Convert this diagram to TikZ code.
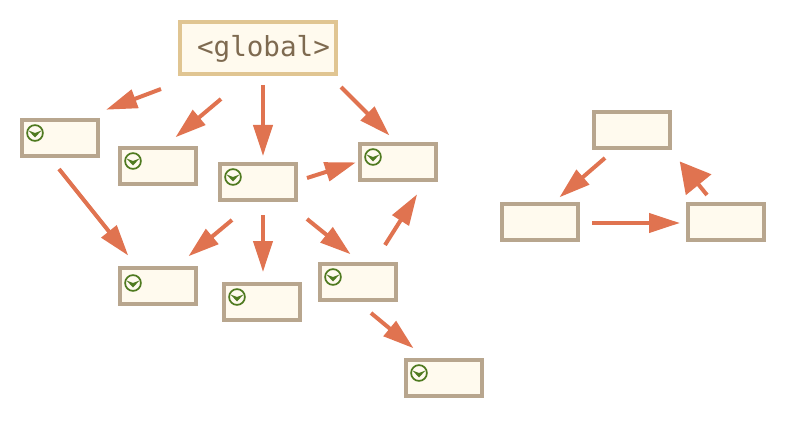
\documentclass[tikz,border=0pt]{standalone}
\usepackage{fontspec}
\setmonofont{DejaVu Sans Mono}
\usetikzlibrary{arrows.meta}
\definecolor{boxfill}{HTML}{FFFAEE}
\definecolor{boxline}{HTML}{B8A68E}
\definecolor{globalline}{HTML}{E0C592}
\definecolor{globaltext}{HTML}{7E6A50}
\definecolor{linkcolor}{HTML}{E07350}
\definecolor{iconcolor}{HTML}{4F7A20}
\tikzset{
  objbox/.style={draw=boxline,fill=boxfill,line width=4pt,minimum width=76pt,minimum height=36pt,inner sep=0pt},
  globalbox/.style={draw=globalline,fill=boxfill,line width=4pt,minimum width=156pt,minimum height=52pt,inner sep=0pt,text=globaltext,font=\ttfamily\fontsize{27.6pt}{30pt}\selectfont},
  link/.style={draw=linkcolor,line width=4pt,shorten >=-2pt,-{Triangle[length=31pt,width=19pt]}},
  widelink/.style={draw=linkcolor,line width=4pt,shorten >=-2pt,-{Triangle[length=30pt,width=32pt]}},
  pics/openicon/.style={code={
    \draw[iconcolor,line width=1.7pt] (0,0) circle (7.9pt);
    \fill[iconcolor] (-6.5,-2.5) -- (0,0) -- (6.5,-2.5) -- (0,4.5) -- cycle;
  }}
}
\begin{document}
\begin{tikzpicture}[x=1pt,y=-1pt]
\useasboundingbox (0,0) rectangle (788,436);
% Reachable objects
\node[globalbox] (global) at (258,48) {\hspace{11pt}\raisebox{-8.7pt}[0pt][0pt]{<global>}};
\node[objbox] (objA) at (60,138) {};
\node[objbox] (objB) at (158,166) {};
\node[objbox] (objC) at (258,182) {};
\node[objbox] (objD) at (398,162) {};
\node[objbox] (objE) at (158,286) {};
\node[objbox] (objF) at (262,302) {};
\node[objbox] (objG) at (358,282) {};
\node[objbox] (objH) at (444,378) {};
% Unreachable island
\node[objbox] (islandTop) at (632,130) {};
\node[objbox] (islandLeft) at (540,222) {};
\node[objbox] (islandRight) at (726,222) {};
% Icons on the reachable objects
\foreach \obj in {objA,objB,objC,objD,objF,objG,objH}
  \pic at ([shift={(-25,-5)}]\obj.center) {openicon};
\pic at ([shift={(-25,-3)}]objE.center) {openicon};
% Links out of global
\draw[link] ([shift={(-97,41)}]global.center) -- ([shift={(48,-29)}]objA.center);
\draw[link] ([shift={(-37,51)}]global.center) -- ([shift={(19,-30)}]objB.center);
\draw[link] ([shift={(5,37)}]global.center) -- ([shift={(5,-28)}]objC.center);
\draw[link] ([shift={(83,39)}]global.center) -- ([shift={(-10,-28)}]objD.center);
% Links between reachable objects
\draw[link] ([shift={(49,-4)}]objC.center) -- ([shift={(-44,1)}]objD.center);
\draw[link] ([shift={(-1,31)}]objA.center) -- ([shift={(-31,-32)}]objE.center);
\draw[link] ([shift={(-26,38)}]objC.center) -- ([shift={(32,-31)}]objE.center);
\draw[link] ([shift={(5,33)}]objC.center) -- ([shift={(1,-32)}]objF.center);
\draw[link] ([shift={(49,37)}]objC.center) -- ([shift={(-9,-29)}]objG.center);
\draw[link] ([shift={(27,-37)}]objG.center) -- ([shift={(18,34)}]objD.center);
\draw[link] ([shift={(13,31)}]objG.center) -- ([shift={(-32,-31)}]objH.center);
% Links around the island
\draw[link] ([shift={(-27,28)}]islandTop.center) -- ([shift={(21,-26)}]islandLeft.center);
\draw[link] ([shift={(52,1)}]islandLeft.center) -- ([shift={(-48,1)}]islandRight.center);
\draw[widelink] ([shift={(-19,-27)}]islandRight.center) -- ([shift={(49,33)}]islandTop.center);
\end{tikzpicture}
\end{document}
